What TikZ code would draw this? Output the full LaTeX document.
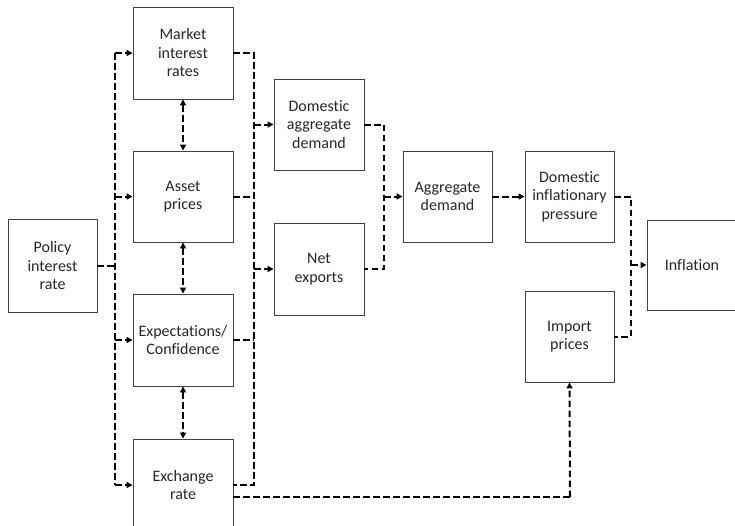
\documentclass[tikz,border=0pt]{standalone}
\usepackage{fontspec}
\setmainfont{Carlito}[Ligatures=NoCommon,RawFeature=-liga]
\usetikzlibrary{arrows.meta}
\tikzset{
  box/.style={draw=black!75, line width=0.9pt, minimum width=#1, inner sep=0pt, align=center, text=black!85,
    font=\fontsize{16pt}{18.5pt}\selectfont},
  dl/.style={draw=black, line width=2pt, dash pattern=on 6.5pt off 3.5pt},
  arr/.style={dl, -{Triangle[length=6pt,width=6pt]}},
  biarr/.style={dl, {Triangle[length=6pt,width=6pt]}-{Triangle[length=6pt,width=6pt]}},
}
\begin{document}
\begin{tikzpicture}[x=1pt,y=-1pt]
\useasboundingbox (0,0) rectangle (735,525);
\clip (0,0) rectangle (735,525);
% nodes
\node[box=89pt, minimum height=93pt] (policy) at (52.5,265.5) {Policy\\interest\\rate};
\node[box=100pt, minimum height=92pt] (market) at (183,53) {Market\\interest\\rates};
\node[box=100pt, minimum height=91pt] (asset) at (183,196.5) {Asset\\prices};
\node[box=100pt, minimum height=92pt] (expect) at (183,340) {Expectations/\\Confidence};
\node[box=100pt, minimum height=92pt] (exch) at (183,485) {Exchange\\rate};
\node[box=90pt, minimum height=91pt] (dad) at (319,124.5) {Domestic\\aggregate\\demand};
\node[box=90pt, minimum height=92pt] (nx) at (319,269) {Net\\exports};
\node[box=89pt, minimum height=91pt] (ad) at (447.5,196.5) {Aggregate\\demand};
\node[box=89pt, minimum height=91pt] (dip) at (569.5,196.5) {Domestic\\inflationary\\pressure};
\node[box=89pt, minimum height=91pt] (imp) at (569.5,336.5) {Import\\prices};
\node[box=90pt, minimum height=90pt] (infl) at (692,265) {Inflation};
% bus 1 (policy to channels)
\coordinate (b1p) at (115,265.5);
\coordinate (b1m) at (115,53);
\coordinate (b1a) at (115,196.5);
\coordinate (b1e) at (115,340);
\coordinate (b1x) at (115,485);
\draw[dl] (policy.east) -- (b1p);
\draw[dl] (b1m) -- (b1x);
\draw[arr] (b1m) -- (market.west);
\draw[arr] (b1a) -- (asset.west);
\draw[arr] (b1e) -- (expect.west);
\draw[arr] (b1x) -- (exch.west);
% bidirectional links
\draw[biarr] (market.south) -- (asset.north);
\draw[biarr] (asset.south) -- (expect.north);
\draw[biarr] (expect.south) -- (exch.north);
% bus 2 (channels to demand)
\coordinate (b2m) at (254,53);
\coordinate (b2d) at (254,124.5);
\coordinate (b2n) at (254,269);
\coordinate (b2x) at (254,485);
\draw[dl] (market.east) -- (b2m) -- (b2x) -- (exch.east);
\draw[dl] (asset.east) -- (asset.east -| b2m);
\draw[dl] (expect.east) -- (expect.east -| b2m);
\draw[arr] (b2d) -- (dad.west);
\draw[arr] (b2n) -- (nx.west);
% exchange rate to import prices
\coordinate (xl) at (233,497);
\coordinate (xr) at (570,497);
\draw[dl] (xl) -- (xr);
\draw[arr] (xr) -- (imp.south);
% demand to aggregate demand
\coordinate (b3t) at (384,124.5);
\coordinate (b3b) at (384,269);
\coordinate (b3m) at (384,196.5);
\draw[dl] (dad.east) -- (b3t) -- (b3b) -- (nx.east);
\draw[arr] (b3m) -- (ad.west);
\draw[arr] (ad.east) -- (dip.west);
% to inflation
\coordinate (b4t) at (631,196.5);
\coordinate (b4b) at (631,336.5);
\coordinate (b4m) at (631,265);
\draw[dl] (dip.east) -- (b4t) -- (b4b) -- (imp.east);
\draw[arr] (b4m) -- (infl.west);
\end{tikzpicture}
\end{document}
